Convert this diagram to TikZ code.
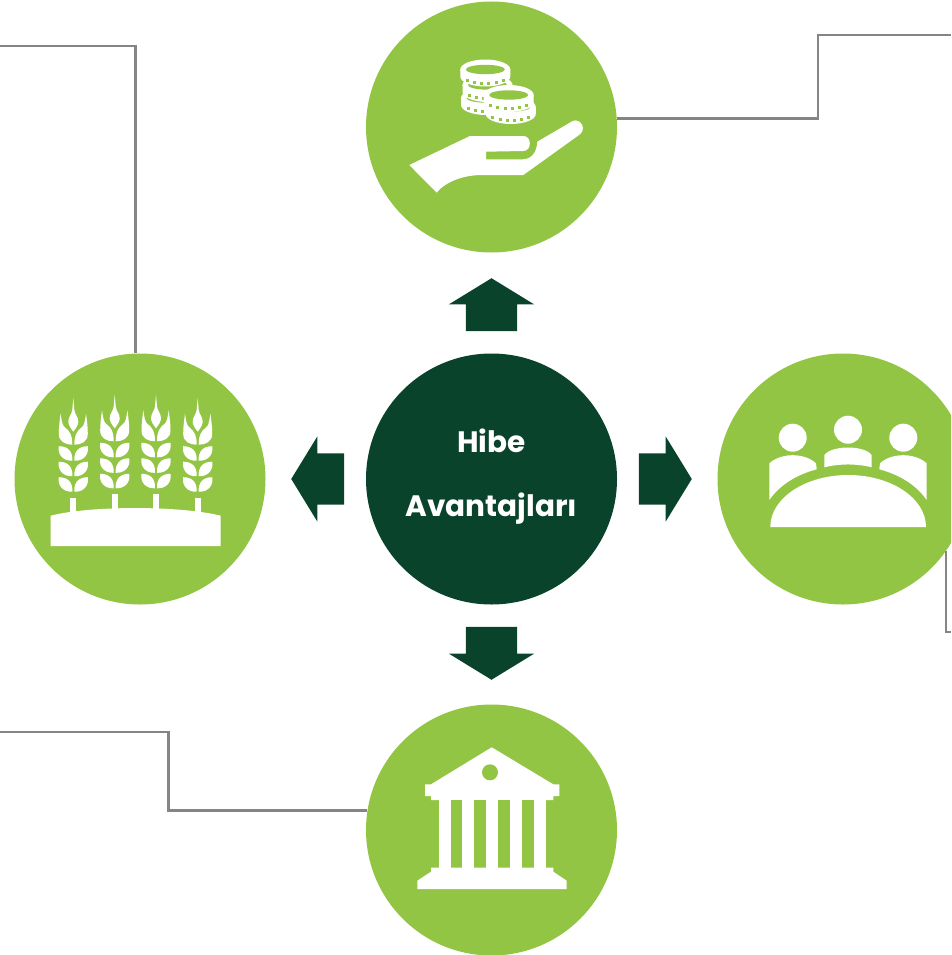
\documentclass[tikz,border=0pt]{standalone}
\usepackage{fontspec}
\setmainfont{Poppins}
\usepackage{xcolor}
\usetikzlibrary{shapes.arrows}
\definecolor{leaf}{HTML}{93C544}
\definecolor{pine}{HTML}{0A432C}
\definecolor{wire}{HTML}{858585}
\tikzset{every picture/.style={x=1pt,y=-1pt},
 bigdisc/.style={circle,fill=leaf,minimum size=251pt,inner sep=0pt},
 hubdisc/.style={bigdisc,fill=pine},
 bigarrow/.style={single arrow,fill=pine,inner xsep=0pt,inner ysep=25.5pt,minimum height=53pt,
  single arrow head extend=17pt,single arrow tip angle=117,anchor=tip},
 wireline/.style={draw=wire,line width=2.7pt},
 hubtext/.style={text=white,anchor=base,font=\bfseries\fontsize{29.5}{34}\selectfont},
 icon/.style={fill=white,draw=none},
 hole/.style={fill=leaf,draw=none},
 pics/grain/.style={code={
   \fill[icon] (-1,0) .. controls (-0.5,-9) and (-5,-14.5) .. (-14.5,-14.5) .. controls (-16,-6) and (-10,0.5) .. cycle;
   \fill[icon] (1,0) .. controls (0.5,-9) and (5,-14.5) .. (14.5,-14.5) .. controls (16,-6) and (10,0.5) .. cycle;
 }},
 pics/wheat/.style={code={
   \foreach \y in {0,-15.5,-31}
     \path (0,\y) pic {grain};
   \fill[icon] (-1,-47) .. controls (-8,-47) and (-14.5,-50) .. (-14.5,-58) .. controls (-14.5,-65) and (-13.5,-72) .. (-12.7,-78)
     .. controls (-11.5,-70) and (-11,-66) .. (-8,-64) .. controls (-4,-61) and (-1,-57) .. cycle;
   \fill[icon] (1,-47) .. controls (8,-47) and (14.5,-50) .. (14.5,-58) .. controls (14.5,-65) and (13.5,-72) .. (12.7,-78)
     .. controls (11.5,-70) and (11,-66) .. (8,-64) .. controls (4,-61) and (1,-57) .. cycle;
   \fill[icon] (0,-60) .. controls (-3,-64) and (-5,-67) .. (-5,-70) .. controls (-5,-75) and (-1.5,-77) .. (-1,-82) -- (0,-93.5) -- (1,-82)
     .. controls (1.5,-77) and (5,-75) .. (5,-70) .. controls (5,-67) and (3,-64) .. cycle;
 }},
 pics/coin/.style={code={
   \fill[icon] (-25,0) -- (25,0) -- (25,7)
     arc[start angle=0,end angle=180,x radius=25,y radius=10] -- cycle;
   \fill[icon] (0,0) ellipse[x radius=25,y radius=10];
   \fill[hole] (0,0) ellipse[x radius=19.5,y radius=4.7];
   \foreach \x/\d in {-18/9.5,-10.8/11.5,-3.6/12.5,3.6/12.5,10.8/11.5,18/9.5}
     \fill[hole] (\x-1.5,\d) rectangle ++(3,3);
 }}}
\begin{document}
\begin{tikzpicture}
\useasboundingbox (0,0) rectangle (951,955);
\clip (0,0) rectangle (951,955);
\node[hubdisc] (hub) at (491.5,479) {};
\node[bigdisc] (money) at (491.5,127) {};
\node[bigdisc] (farm) at (140,479) {};
\node[bigdisc] (people) at (843,479) {};
\node[bigdisc] (bank) at (491.5,830) {};
\coordinate (topcorner) at (818,35);
\coordinate (topfree) at (951,35);
\coordinate (leftfree) at (0,46);
\coordinate (rightfree) at (951,632);
\coordinate (downcorner) at (168.5,732);
\coordinate (downfree) at (0,732);
\draw[wireline] (money.4) -| (topcorner) -- (topfree);
\draw[wireline] (leftfree) -| (farm.92);
\draw[wireline] (people.-35) |- (rightfree);
\draw[wireline] (bank.171.3) -| (downcorner) -- (downfree);
\node[hubtext] (hibe) at (491.5,452.3) {Hibe};
\node[hubtext] (avantaj) at (491.5,516.7) {Avantajları};
\node[bigarrow,rotate=90] (up) at (491.5,278) {};
\node[bigarrow,rotate=-90] (down) at (491.5,680) {};
\node[bigarrow,rotate=180] (left) at (291,479) {};
\node[bigarrow] (right) at (692,479) {};
% hand with coins
\path (486,98) pic {coin};
\path (487.5,85) pic {coin};
\path (485.3,69.5) pic {coin};
\path (510.8,107) pic {coin};
\path (508.7,95) pic {coin};
\fill[icon] (409.3,165) -- (470,136) -- (523.3,136) .. controls (532,136) and (532,151) .. (523.3,151) -- (486,151.7) -- (486,159.3) -- (523.3,159.3)
  .. controls (533,159) and (537,150) .. (537.3,141.7) -- (572.7,121) .. controls (580,118) and (587,128) .. (580,134.3) -- (523.3,175) -- (480,175)
  .. controls (453.3,176) and (440,188) .. (436.7,192.7) -- cycle;
% wheat field
\foreach \x/\y in {73.3/491.7,114.7/488.3,156/488.3,197.7/491.7}{
  \path (\x,\y) pic {wheat};
  \fill[icon] (\x-3,\y+6) rectangle (\x+3,\y+24);
}
\fill[icon] (50.7,515.7) .. controls (90,505.5) and (180,505.5) .. (220.7,515.7) -- (220.7,546) -- (50.7,546) -- cycle;
% round table
\foreach \x/\y in {792.7/437.7,848/429.7,903.3/437.7}
  \fill[icon] (\x,\y) circle (14);
\fill[icon] (769.3,500) -- (769.3,463.3) .. controls (782,452) and (805,453) .. (816,463.3) -- (816.7,469.3) .. controls (795,475) and (779,486) .. cycle;
\fill[icon] (926.7,500) -- (926.7,463.3) .. controls (914,452) and (891,453) .. (880,463.3) -- (879.3,469.3) .. controls (901,475) and (917,486) .. cycle;
\fill[icon] (824.3,467.3) -- (824.3,455) .. controls (832,445) and (864,445) .. (871.7,455) -- (871.7,467.3) .. controls (856,463.5) and (840,463.5) .. cycle;
\fill[icon] (770.3,527) arc[start angle=180,end angle=360,x radius=77.85,y radius=52] -- cycle;
% bank building
\fill[icon] (491.7,747.3) -- (553.3,784.3) -- (559.3,784.3) -- (559.3,796) -- (553.3,796) -- (553.3,800) -- (431,800) -- (431,796) -- (425,796) -- (425,784.3) -- (431,784.3) -- cycle;
\fill[hole] (490,772.3) circle (8);
\fill[icon] (438.7,800) rectangle (545.7,867.7);
\foreach \x in {450.7,474.3,498,522}
  \fill[hole] (\x,800) rectangle (\x+11.7,867.7);
\fill[icon] (431,867.7) -- (553.3,867.7) -- (553.3,871.7) -- (566.7,880.7) -- (566.7,889) -- (417.3,889) -- (417.3,880.7) -- (431,871.7) -- cycle;
\end{tikzpicture}
\end{document}
